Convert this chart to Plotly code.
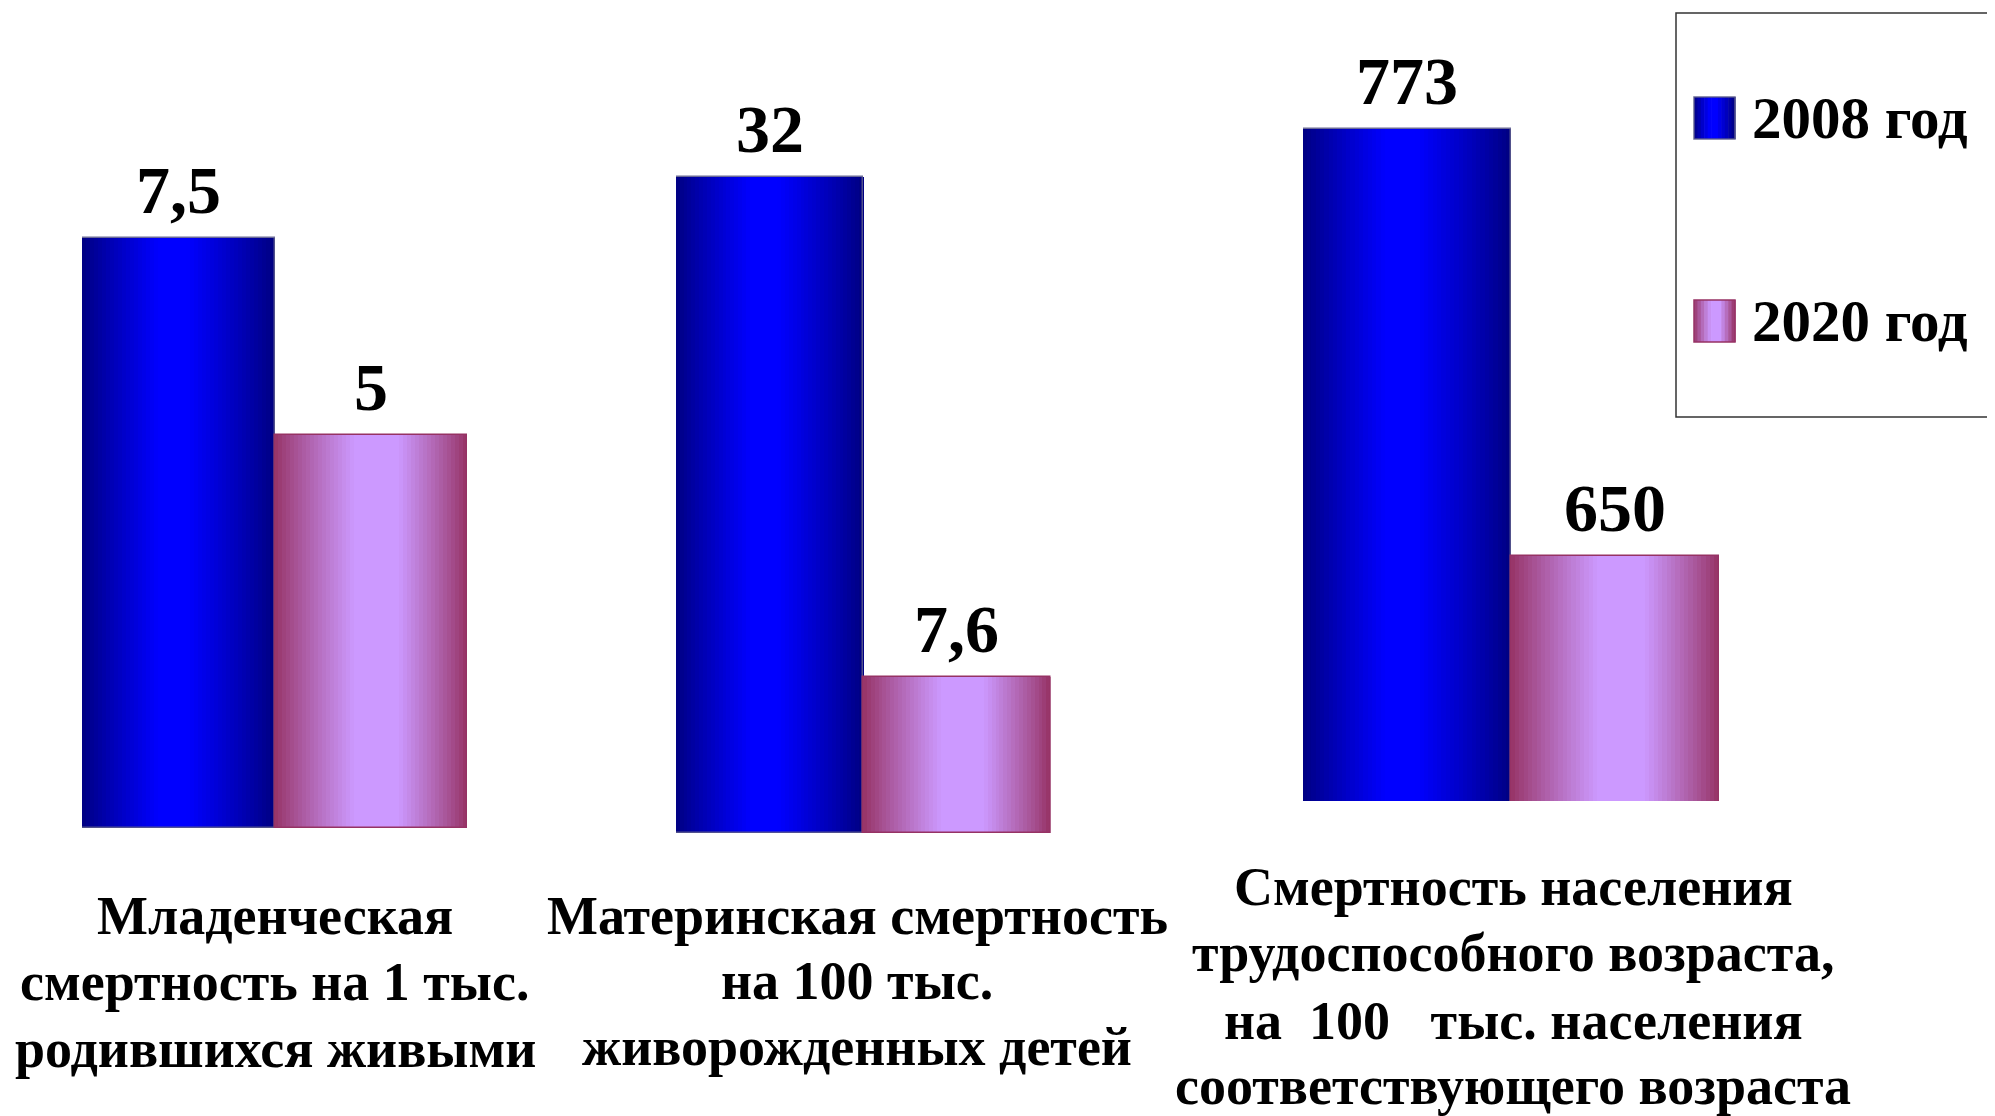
import plotly.graph_objects as go

# ---------------- data ----------------
category_lines = [
    ["Младенческая", "смертность на 1 тыс.", "родившихся живыми"],
    ["Материнская смертность", "на 100 тыс.", "живорожденных детей"],
    ["Смертность населения", "трудоспособного возраста,",
     "на\u00a0\u00a0100\u00a0\u00a0\u00a0тыс. населения", "соответствующего возраста"],
]
series_names = ["2008 год", "2020 год"]
values_2008 = [7.5, 32, 773]
values_2020 = [5, 7.6, 650]
axis_min = [0, 0, 579.4]

# ---------------- layout constants (pixels, target screen positions) ----------------
W, H = 1995, 1116
OFF = 8  # default page margin of the html body
group_x = [(82, 467), (676, 1050.5), (1303, 1719)]
group_base_px = [828, 833, 801]
group_px_per_unit = [78.67, 20.5, 3.4715]
label_center_x = [275, 857, 1513]
label_line_y = [[916, 982, 1049], [916, 981, 1047], [887, 953, 1021, 1086]]

FONT = "Liberation Serif"
N = 48


def px(v):
    return (v - OFF) / W


def py(v):
    return 1 - (v - OFF) / H


def lerp(a, b, g):
    return tuple(a[i] + (b[i] - a[i]) * g for i in range(3))


def profile(t, lo, hi):
    if t < lo:
        return t / lo
    if t > hi:
        return (1 - t) / (1 - hi)
    return 1.0


styles = [
    dict(edge=(0, 0, 128), center=(0, 0, 255), lo=0.40, hi=0.55, line="rgba(90,90,140,0.9)"),
    dict(edge=(150, 50, 100), center=(204, 153, 255), lo=0.42, hi=0.64, line="rgb(150,50,100)"),
]


def slice_colors(st):
    cols = []
    for k in range(N):
        t = (k + 0.5) / N
        g = profile(t, st["lo"], st["hi"])
        g = max(0.0, min(1.0, g)) ** 0.9
        c = lerp(st["edge"], st["center"], g)
        cols.append("rgb(%d,%d,%d)" % tuple(round(v) for v in c))
    return cols


def fmt(v):
    return ("%g" % v).replace(".", ",")


fig = go.Figure()
annotations = []
layout_axes = {}

for gi in range(3):
    xa = "x" if gi == 0 else "x%d" % (gi + 1)
    ya = "y" if gi == 0 else "y%d" % (gi + 1)
    vals = [values_2008[gi], values_2020[gi]]
    for s, v in enumerate(vals):
        st = styles[s]
        xs = [s + (k + 0.5) / N for k in range(N)]
        fig.add_trace(go.Bar(
            x=xs, y=[v] * N, width=[1.0 / N * 1.15] * N,
            marker=dict(color=slice_colors(st), line=dict(width=0)),
            xaxis=xa, yaxis=ya, showlegend=False, hoverinfo="skip",
            name=series_names[s]))
        fig.add_trace(go.Bar(
            x=[s + 0.5], y=[v], width=[1.0],
            marker=dict(color="rgba(0,0,0,0)", line=dict(color=st["line"], width=1.5)),
            xaxis=xa, yaxis=ya, showlegend=False, name=series_names[s],
            hovertemplate=series_names[s] + ": %{y}<extra></extra>"))
        annotations.append(dict(
            x=s + 0.5, y=v, xref=xa, yref=ya, text="<b>%s</b>" % fmt(v),
            showarrow=False, yanchor="bottom", yshift=8,
            font=dict(family=FONT, size=68, color="black")))
    x0, x1 = group_x[gi]
    base = group_base_px[gi]
    ymin = axis_min[gi]
    ymax = ymin + (base - OFF) / group_px_per_unit[gi]
    layout_axes["xaxis" if gi == 0 else "xaxis%d" % (gi + 1)] = dict(
        domain=[px(x0), px(x1)], range=[0, 2], visible=False, fixedrange=True,
        anchor=ya)
    layout_axes["yaxis" if gi == 0 else "yaxis%d" % (gi + 1)] = dict(
        domain=[py(base), 1], range=[ymin, ymax], visible=False, fixedrange=True,
        anchor=xa)
    for li, line in enumerate(category_lines[gi]):
        annotations.append(dict(
            x=px(label_center_x[gi]), y=py(label_line_y[gi][li]),
            xref="paper", yref="paper", text="<b>%s</b>" % line,
            showarrow=False, xanchor="center", yanchor="middle",
            font=dict(family=FONT, size=54, color="black")))

# ---------------- custom legend ----------------
shapes = [dict(type="rect", xref="paper", yref="paper",
               x0=px(1676), x1=px(2030), y0=py(417), y1=py(13),
               line=dict(color="#333333", width=1.5), fillcolor="rgba(0,0,0,0)")]
leg_y = [118, 321]
for s in range(2):
    st = styles[s]
    cols = slice_colors(st)
    sx0, sx1 = 1694, 1735
    yc = leg_y[s]
    nsl = 12
    for k in range(nsl):
        c = cols[int((k + 0.5) / nsl * N)]
        shapes.append(dict(type="rect", xref="paper", yref="paper",
                           x0=px(sx0 + (sx1 - sx0) * k / nsl),
                           x1=px(sx0 + (sx1 - sx0) * (k + 1) / nsl + 0.6),
                           y0=py(yc + 21), y1=py(yc - 21),
                           line=dict(width=0), fillcolor=c))
    shapes.append(dict(type="rect", xref="paper", yref="paper",
                       x0=px(sx0), x1=px(sx1), y0=py(yc + 21), y1=py(yc - 21),
                       line=dict(color=st["line"], width=1.5), fillcolor="rgba(0,0,0,0)"))
    annotations.append(dict(
        x=px(1750), y=py(yc), xref="paper", yref="paper",
        text="<b>%s</b>" % series_names[s], showarrow=False,
        xanchor="left", yanchor="middle",
        font=dict(family=FONT, size=59, color="black")))

fig.update_layout(
    width=W, height=H, margin=dict(l=0, r=0, t=0, b=0),
    paper_bgcolor="white", plot_bgcolor="rgba(0,0,0,0)",
    barmode="overlay", bargap=0, showlegend=False,
    annotations=annotations, shapes=shapes, **layout_axes)

fig.write_html("out.html")
